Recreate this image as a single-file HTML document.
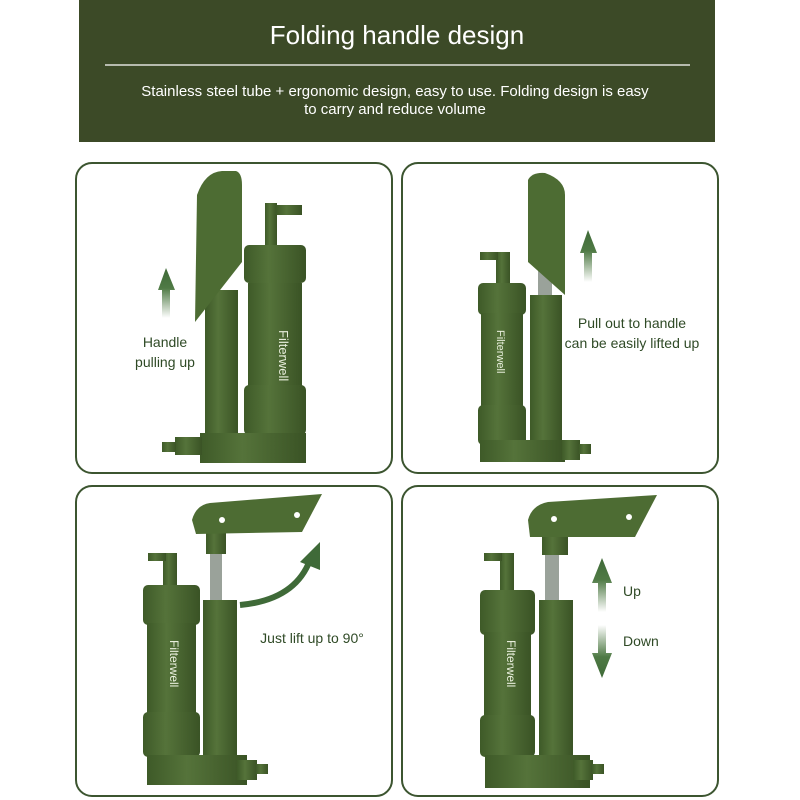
<!DOCTYPE html>
<html><head><style>
body{margin:0;background:#fff;}
svg{display:block;font-family:"Liberation Sans",sans-serif;}
</style></head><body>
<svg width="800" height="800" viewBox="0 0 800 800">
<defs>
<linearGradient id="up" x1="0" y1="1" x2="0" y2="0"><stop offset="0" stop-color="#4f7a45" stop-opacity="0"/><stop offset="0.6" stop-color="#4f7a45"/><stop offset="1" stop-color="#3f6a38"/></linearGradient>
<linearGradient id="dn" x1="0" y1="0" x2="0" y2="1"><stop offset="0" stop-color="#4f7a45" stop-opacity="0"/><stop offset="0.6" stop-color="#4f7a45"/><stop offset="1" stop-color="#3f6a38"/></linearGradient>
<linearGradient id="body" x1="0" y1="0" x2="1" y2="0"><stop offset="0" stop-color="#3e5a28"/><stop offset="0.4" stop-color="#55733a"/><stop offset="1" stop-color="#3a5325"/></linearGradient>
</defs>
<rect x="79" y="0" width="636" height="142" fill="#3c4a27"/>
<text x="397" y="44" text-anchor="middle" font-size="26" fill="#fff">Folding handle design</text>
<line x1="105" y1="65" x2="690" y2="65" stroke="#fff" stroke-width="1.2"/>
<text x="395" y="96" text-anchor="middle" font-size="15" fill="#fff">Stainless steel tube + ergonomic design, easy to use. Folding design is easy</text>
<text x="395" y="114" text-anchor="middle" font-size="15" fill="#fff">to carry and reduce volume</text>
<g fill="none" stroke="#3c5530" stroke-width="2">
<rect x="76" y="163" width="316" height="310" rx="16"/>
<rect x="402" y="163" width="316" height="310" rx="16"/>
<rect x="76" y="486" width="316" height="310" rx="16"/>
<rect x="402" y="486" width="316" height="310" rx="16"/>
</g>
<!-- Panel 1 -->
<g fill="url(#body)">
<rect x="205" y="290" width="33" height="165"/>
<path d="M197,195 Q205,172 222,171 L236,171 Q242,173 242,185 L242,262 L195,322 Z" fill="#4d6c33"/>
<rect x="265" y="203" width="12" height="45"/><rect x="276" y="205" width="26" height="10"/>
<rect x="244" y="245" width="62" height="38" rx="5"/>
<rect x="248" y="283" width="54" height="110"/>
<rect x="244" y="385" width="62" height="50" rx="5"/>
<rect x="200" y="433" width="106" height="30"/>
<rect x="175" y="437" width="27" height="18"/><rect x="162" y="442" width="14" height="10"/>
</g>
<text x="279" y="330" font-size="13" fill="#e8eedc" transform="rotate(90 279 330)">Filterwell</text>
<path d="M158,290 L166,268 L175,290 L170,290 L170,318 L162,318 L162,290 Z" fill="url(#up)"/>
<text x="165" y="347" text-anchor="middle" font-size="14" fill="#2f4a26">Handle</text>
<text x="165" y="367" text-anchor="middle" font-size="14" fill="#2f4a26">pulling up</text>
<!-- Panel 2 -->
<g fill="url(#body)">
<rect x="538" y="265" width="14" height="35" fill="#9aa29a"/>
<path d="M528,180 Q532,172 545,173 Q565,180 565,195 L565,295 L528,262 Z" fill="#4d6c33"/>
<rect x="530" y="295" width="32" height="165"/>
<rect x="496" y="252" width="14" height="35"/><rect x="480" y="252" width="18" height="8"/>
<rect x="478" y="283" width="48" height="32" rx="5"/>
<rect x="481" y="313" width="42" height="95"/>
<rect x="478" y="405" width="48" height="40" rx="5"/>
<rect x="480" y="440" width="85" height="22"/>
<rect x="562" y="440" width="18" height="20"/><rect x="579" y="444" width="12" height="10"/>
</g>
<text x="497" y="330" font-size="11" fill="#e8eedc" transform="rotate(90 497 330)">Filterwell</text>
<path d="M580,253 L588,230 L597,253 L592,253 L592,282 L584,282 L584,253 Z" fill="url(#up)"/>
<text x="632" y="328" text-anchor="middle" font-size="14" fill="#2f4a26">Pull out to handle</text>
<text x="632" y="348" text-anchor="middle" font-size="14" fill="#2f4a26">can be easily lifted up</text>
<!-- Panel 3 -->
<g fill="url(#body)">
<rect x="210" y="552" width="12" height="55" fill="#9aa29a"/>
<rect x="206" y="530" width="20" height="24"/>
<path d="M192,520 Q196,505 210,503 L322,494 L302,532 L196,534 Z" fill="#4d6c33"/>
<rect x="203" y="600" width="34" height="180"/>
<rect x="163" y="553" width="14" height="35"/><rect x="148" y="553" width="18" height="8"/>
<rect x="143" y="585" width="57" height="40" rx="5"/>
<rect x="147" y="623" width="49" height="95"/>
<rect x="143" y="712" width="57" height="45" rx="5"/>
<rect x="147" y="755" width="100" height="30"/>
<rect x="237" y="760" width="20" height="20"/><rect x="256" y="764" width="12" height="10"/>
</g>
<circle cx="222" cy="520" r="3" fill="#fff"/><circle cx="297" cy="515" r="3" fill="#fff"/>
<text x="170" y="640" font-size="12" fill="#e8eedc" transform="rotate(90 170 640)">Filterwell</text>
<path d="M240,605 Q295,600 310,560" fill="none" stroke="#3f6a38" stroke-width="6"/>
<path d="M300,562 L320,542 L320,570 Z" fill="#3f6a38"/>
<text x="312" y="643" text-anchor="middle" font-size="14" fill="#2f4a26">Just lift up to 90°</text>
<!-- Panel 4 -->
<g fill="url(#body)">
<rect x="545" y="553" width="14" height="52" fill="#9aa29a"/>
<rect x="542" y="535" width="26" height="20"/>
<path d="M528,520 Q532,505 548,502 L657,495 L635,537 L530,537 Z" fill="#4d6c33"/>
<rect x="539" y="600" width="34" height="185"/>
<rect x="500" y="553" width="14" height="38"/><rect x="484" y="553" width="18" height="8"/>
<rect x="480" y="590" width="55" height="45" rx="5"/>
<rect x="484" y="632" width="47" height="92"/>
<rect x="480" y="715" width="55" height="42" rx="5"/>
<rect x="485" y="755" width="105" height="33"/>
<rect x="573" y="760" width="20" height="20"/><rect x="592" y="764" width="12" height="10"/>
</g>
<circle cx="554" cy="519" r="3" fill="#fff"/><circle cx="629" cy="517" r="3" fill="#fff"/>
<text x="507" y="640" font-size="12" fill="#e8eedc" transform="rotate(90 507 640)">Filterwell</text>
<path d="M592,583 L602,558 L612,583 L606,583 L606,612 L598,612 L598,583 Z" fill="url(#up)"/>
<path d="M592,653 L602,678 L612,653 L606,653 L606,625 L598,625 L598,653 Z" fill="url(#dn)"/>
<text x="623" y="596" font-size="14" fill="#2f4a26">Up</text>
<text x="623" y="646" font-size="14" fill="#2f4a26">Down</text>
</svg>
</body></html>
